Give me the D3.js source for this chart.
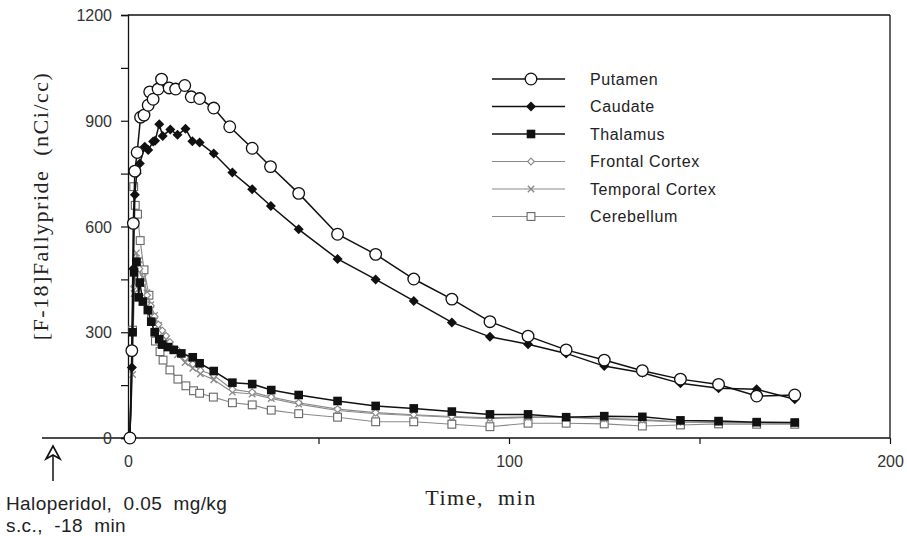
<!DOCTYPE html>
<html>
<head>
<meta charset="utf-8">
<script src="https://cdn.jsdelivr.net/npm/d3@7"></script>
<style>
  body { margin: 0; background: #fff; }
  svg { display: block; }
  .tick text { font-family: "Liberation Sans", Arial, sans-serif; font-size: 16px; fill: #333; }
</style>
</head>
<body>
<div id="chart"></div>
<script>
// time (min), activity (nCi/cc)
var putamen = [[0.5,0],[1.0,248],[1.4,609],[1.8,757],[2.4,810],[3.3,910],[4.2,916],[5.3,944],[5.7,982],[6.6,961],[7.9,990],[8.8,1018],[10.8,993],[12.5,990],[14.9,1000],[16.6,968],[18.8,963],[22.5,936],[26.7,883],[32.6,822],[37.4,770],[44.8,694],[55,578],[65,521],[75,451],[85,394],[95,330],[105,289],[115,250],[125,221],[135,191],[145,167],[155,152],[165,119],[175,122]];
var caudate = [[0.5,0],[1.0,200],[1.4,480],[1.8,690],[2.3,751],[3.1,779],[4.4,826],[5.3,817],[6.6,841],[7.1,843],[8.2,890],[9.1,857],[11.1,875],[13.0,860],[15.1,877],[16.9,842],[18.8,838],[22.5,807],[27.4,753],[32.6,706],[37.5,658],[44.8,592],[55,508],[65,450],[75,389],[85,328],[95,287],[105,266],[115,240],[125,204],[135,185],[145,155],[155,141],[165,138],[175,110]];
var thalamus = [[0.5,0],[1.2,300],[1.6,470],[2.2,500],[2.8,399],[3.1,441],[3.9,387],[5.2,363],[6.1,330],[7.0,300],[8.2,280],[9.0,265],[10.5,258],[12,250],[14,240],[17,229],[18.8,212],[22.5,190],[27.4,157],[32.6,153],[37.6,136],[44.8,122],[55,105],[65,91],[75,84],[85,75],[95,67],[105,67],[115,59],[125,62],[135,60],[145,50],[155,48],[165,45],[175,44]];
var frontal = [[0.5,0],[1.2,200],[1.6,430],[2.2,500],[3.0,480],[4.0,440],[5.0,405],[6.0,375],[7.0,345],[8.0,322],[9.0,305],[10,290],[11,272],[13,250],[15,228],[17,210],[19,192],[22.5,178],[27.4,138],[32.6,130],[37.6,116],[44.8,100],[55,82],[65,72],[75,66],[85,61],[95,57],[105,60],[115,60],[125,56],[135,52],[145,46],[155,45],[165,44],[175,43]];
var temporal = [[0.5,0],[1.2,180],[1.6,410],[2.2,525],[3.0,505],[4.0,455],[5.0,412],[6.0,378],[7.0,348],[8.0,320],[9.0,298],[10,280],[11,262],[13,236],[15,214],[17,198],[19,182],[22.5,165],[27.4,130],[32.6,125],[37.6,112],[44.8,96],[55,78],[65,69],[75,64],[85,59],[95,55],[105,58],[115,58],[125,54],[135,50],[145,45],[155,44],[165,42],[175,42]];
var cerebellum = [[0.5,0],[1.2,306],[1.5,713],[1.9,660],[2.5,635],[3.2,560],[4.2,477],[5.5,405],[6.2,340],[7.2,275],[8.4,245],[9.2,221],[11,193],[13.1,167],[15.2,148],[17.2,134],[18.8,127],[22.4,116],[27.4,100],[32.6,94],[37.6,79],[44.8,69],[55,59],[65,46],[75,46],[85,39],[95,32],[105,42],[115,42],[125,40],[135,34],[145,37],[155,40],[165,39],[175,39]];

var seriesNames = ['Putamen', 'Caudate', 'Thalamus', 'Frontal Cortex', 'Temporal Cortex', 'Cerebellum'];
var seriesData = [putamen, caudate, thalamus, frontal, temporal, cerebellum];
var seriesSymbols = ['circle', 'diamond', 'square', 'smalldiamond', 'cross', 'opensquare'];

var xTicks = [0, 50, 100, 150, 200];
var xTickLabels = [0, 100, 200];
var yTicks = [0, 150, 300, 450, 600, 750, 900, 1050, 1200];
var yTickLabels = [0, 300, 600, 900, 1200];

var width = 907, height = 536;
var margin = {left: 128, top: 15, right: 17, bottom: 98};

var svg = d3.select('#chart').append('svg')
    .attr('width', width)
    .attr('height', height);

var x = d3.scaleLinear().domain([0, 200]).range([margin.left, width - margin.right]);
var y = d3.scaleLinear().domain([0, 1200]).range([height - margin.bottom, margin.top]);

// frame
svg.append('line').attr('x1', x(0)).attr('x2', x(200)).attr('y1', y(1200)).attr('y2', y(1200))
    .attr('stroke', '#111').attr('stroke-width', 1.3);
svg.append('line').attr('x1', x(200)).attr('x2', x(200)).attr('y1', y(1200)).attr('y2', y(0))
    .attr('stroke', '#111').attr('stroke-width', 1.3);
// x axis line extends left to the pre-dose marker
svg.append('line').attr('x1', 42).attr('x2', x(200)).attr('y1', y(0)).attr('y2', y(0))
    .attr('stroke', '#111').attr('stroke-width', 1.3);

var xAxis = d3.axisBottom(x).tickValues(xTicks).tickSize(6).tickPadding(12)
    .tickFormat(function(d) { return xTickLabels.indexOf(d) >= 0 ? d : ''; });
var gx = svg.append('g').attr('transform', 'translate(0,' + y(0) + ')').call(xAxis);
gx.select('.domain').remove();
gx.selectAll('.tick line').attr('stroke', '#111').attr('stroke-width', 1.2);

var yAxis = d3.axisLeft(y).tickValues(yTicks).tickSize(7).tickPadding(9)
    .tickFormat(function(d) { return yTickLabels.indexOf(d) >= 0 ? d : ''; });
var gy = svg.append('g').attr('transform', 'translate(' + x(0) + ',0)').call(yAxis);
gy.select('.domain').attr('stroke', '#111').attr('stroke-width', 1.3);
gy.selectAll('.tick line').attr('stroke', '#111').attr('stroke-width', 1.2);
gy.selectAll('.tick text').attr('dy', '0.35em');

// axis titles
svg.append('text')
    .attr('x', 481).attr('y', 505)
    .attr('text-anchor', 'middle')
    .style('font-family', '"Liberation Serif", "Times New Roman", serif')
    .style('font-size', '22px').style('letter-spacing', '1.5px').style('fill', '#222')
    .attr('xml:space', 'preserve')
    .text('Time,  min');

svg.append('text')
    .attr('transform', 'translate(48,206) rotate(-90)')
    .attr('text-anchor', 'middle')
    .style('font-family', '"Liberation Serif", "Times New Roman", serif')
    .style('font-size', '22px').style('letter-spacing', '1.5px').style('fill', '#222')
    .attr('xml:space', 'preserve')
    .text('[F-18]Fallypride  (nCi/cc)');

// dosing arrow + note
svg.append('line').attr('x1', 53).attr('x2', 53).attr('y1', 481).attr('y2', 452)
    .attr('stroke', '#111').attr('stroke-width', 1.5);
svg.append('path').attr('d', 'M46,459 L53,446 L60,459 L53,455 Z')
    .attr('fill', '#fff').attr('stroke', '#111').attr('stroke-width', 1.6)
    .attr('stroke-linejoin', 'miter');
svg.append('text').attr('x', 6).attr('y', 510)
    .attr('xml:space', 'preserve')
    .style('font-family', '"Liberation Sans", Arial, sans-serif').style('font-size', '19px')
    .style('letter-spacing', '0.4px').style('fill', '#222')
    .text('Haloperidol,  0.05  mg/kg');
svg.append('text').attr('x', 6).attr('y', 532)
    .attr('xml:space', 'preserve')
    .style('font-family', '"Liberation Sans", Arial, sans-serif').style('font-size', '19px')
    .style('letter-spacing', '0.4px').style('fill', '#222')
    .text('s.c.,  -18  min');

function styleOf(i) {
  return i < 3 ? {stroke: '#111', width: 1.5} : {stroke: '#8a8a8a', width: 1.1};
}

function diamondPath(r) {
  return 'M0,' + (-r) + 'L' + r + ',0L0,' + r + 'L' + (-r) + ',0Z';
}

function drawSymbol(g, kind, cx, cy, color) {
  if (kind === 'circle') {
    g.append('circle').attr('cx', cx).attr('cy', cy).attr('r', 5.8)
      .attr('fill', '#fff').attr('stroke', '#111').attr('stroke-width', 1.3);
  } else if (kind === 'diamond') {
    g.append('path').attr('d', diamondPath(5))
      .attr('transform', 'translate(' + cx + ',' + cy + ')').attr('fill', '#111');
  } else if (kind === 'square') {
    g.append('rect').attr('x', cx - 4.3).attr('y', cy - 4.3).attr('width', 8.6).attr('height', 8.6)
      .attr('fill', '#111');
  } else if (kind === 'smalldiamond') {
    g.append('path').attr('d', diamondPath(3.4))
      .attr('transform', 'translate(' + cx + ',' + cy + ')')
      .attr('fill', '#fff').attr('stroke', color).attr('stroke-width', 1.1);
  } else if (kind === 'cross') {
    g.append('path').attr('d', 'M-3.2,-3.2L3.2,3.2M-3.2,3.2L3.2,-3.2')
      .attr('transform', 'translate(' + cx + ',' + cy + ')')
      .attr('stroke', color).attr('stroke-width', 1.4);
  } else if (kind === 'opensquare') {
    g.append('rect').attr('x', cx - 3.9).attr('y', cy - 3.9).attr('width', 7.8).attr('height', 7.8)
      .attr('fill', '#fff').attr('stroke', '#666').attr('stroke-width', 1.1);
  }
}

var line = d3.line().x(function(d) { return x(d[0]); }).y(function(d) { return y(d[1]); });

// draw back to front: grey curves first, then the black ones
var order = [5, 4, 3, 2, 1, 0];
order.forEach(function(i) {
  var st = styleOf(i);
  var g = svg.append('g').attr('class', 'series');
  g.append('path').datum(seriesData[i])
    .attr('d', line)
    .attr('fill', 'none')
    .attr('stroke', st.stroke)
    .attr('stroke-width', st.width);
  seriesData[i].forEach(function(d) {
    drawSymbol(g, seriesSymbols[i], x(d[0]), y(d[1]), st.stroke);
  });
});

// legend
var legend = svg.append('g').attr('class', 'legend');
seriesNames.forEach(function(name, i) {
  var ly = 79 + i * 27.5;
  var st = styleOf(i);
  legend.append('line').attr('x1', 492).attr('x2', 565).attr('y1', ly).attr('y2', ly)
    .attr('stroke', st.stroke).attr('stroke-width', st.width);
  drawSymbol(legend, seriesSymbols[i], 531, ly, st.stroke);
  legend.append('text').attr('x', 590).attr('y', ly).attr('dy', '0.35em')
    .style('font-family', '"Liberation Sans", Arial, sans-serif').style('font-size', '16px')
    .style('letter-spacing', '0.6px').style('fill', '#222')
    .text(name);
});
</script>
</body>
</html>
